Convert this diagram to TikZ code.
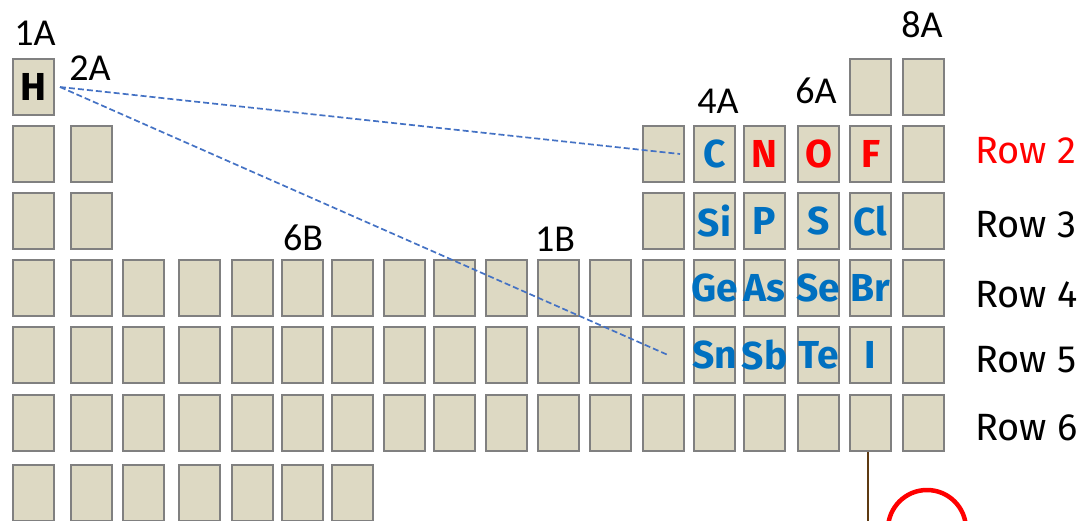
\documentclass[tikz,border=0pt]{standalone}
\usepackage{fontspec}
\setmainfont{Carlito}
\newfontfamily\comicfont{Fira Sans}
\usetikzlibrary{positioning,calc}
\definecolor{cellfill}{HTML}{DDD9C3}
\definecolor{cellline}{HTML}{808080}
\definecolor{elblue}{HTML}{0070C0}
\definecolor{elred}{HTML}{FF0000}
\definecolor{linkblue}{HTML}{4472C4}
\definecolor{stembrown}{HTML}{5E3A12}
\def\colx{{33.5,91.5,143.5,199.5,252.5,302.5,352.5,404.5,454.5,506.5,558.5,610.5,663.5,714.5,764.5,818.5,870.5,923.5}}

\begin{document}
\begin{tikzpicture}[
    x=1pt, y=-1pt,
    cell/.style={rectangle, draw=cellline, fill=cellfill, line width=2pt, minimum width=41pt, minimum height=56pt, inner sep=0pt},
    grp/.style={font=\fontsize{38}{42}\selectfont, inner sep=0pt, anchor=base},
    rowlab/.style={font=\comicfont\fontsize{38}{42}\selectfont, inner sep=0pt, anchor=base west},
    elem/.style={font=\comicfont\bfseries\fontsize{39}{42}\selectfont, inner sep=0pt},
    link/.style={linkblue, line width=1.7pt, dash pattern=on 6pt off 3pt}
]
    \useasboundingbox (0,0) rectangle (1077,520);
    \clip (0,0) rectangle (1077,520);

    % the table cells, row by row
    \foreach \r/\y/\cols in {1/87/{1,17,18}, 2/154/{1,2,13,14,15,16,17,18}, 3/221/{1,2,13,14,15,16,17,18},
        4/288/{1,...,18}, 5/355/{1,...,18}, 6/423/{1,...,18}, 7/493/{1,...,7}}
        \foreach \c in \cols {
            \pgfmathsetmacro\x{\colx[\c-1]}
            \node[cell] (c\r-\c) at (\x,\y) {};
        }

    % group labels
    \node[grp] (g1A) at (35,45) {1A};
    \node[grp] (g2A) at (90,80) {2A};
    \node[grp] (g6B) at (303,250) {6B};
    \node[grp] (g1B) at (555,251) {1B};
    \node[grp] (g4A) at (718,113) {4A};
    \node[grp] (g6A) at (816,103) {6A};
    \node[grp] (g8A) at (922,37) {8A};

    % elements
    \node[elem, text=black] (eH) at (c1-1) {H};
    \foreach \r/\c/\sym/\col in {2/14/C/elblue, 2/15/N/elred, 2/16/O/elred, 2/17/F/elred,
        3/14/Si/elblue, 3/15/P/elblue, 3/16/S/elblue, 3/17/Cl/elblue,
        4/14/Ge/elblue, 4/15/As/elblue, 4/16/Se/elblue, 4/17/Br/elblue,
        5/14/Sn/elblue, 5/15/Sb/elblue, 5/16/Te/elblue, 5/17/I/elblue}
        \node[elem, text=\col] (e\sym) at (c\r-\c) {\sym};

    % row labels
    \node[rowlab, text=elred] (row2) at (975,163) {Row 2};
    \foreach \n/\y in {3/237, 4/307, 5/372, 6/440}
        \node[rowlab] (row\n) at (975,\y) {Row \n};

    % links from hydrogen
    \draw[link] ([xshift=5pt]c1-1.east) -- ([xshift=-5pt]c2-13.east);
    \draw[link] ([xshift=5pt]c1-1.east) -- ([xshift=-17pt]c5-13.east);

    % stem and curve
    \coordinate (stemend) at (868,525);
    \draw[stembrown, line width=2.5pt] (c6-17.south -| stemend) -- (stemend);
    \draw[elred, line width=4.5pt] (927,529) circle[radius=39];
\end{tikzpicture}
\end{document}
